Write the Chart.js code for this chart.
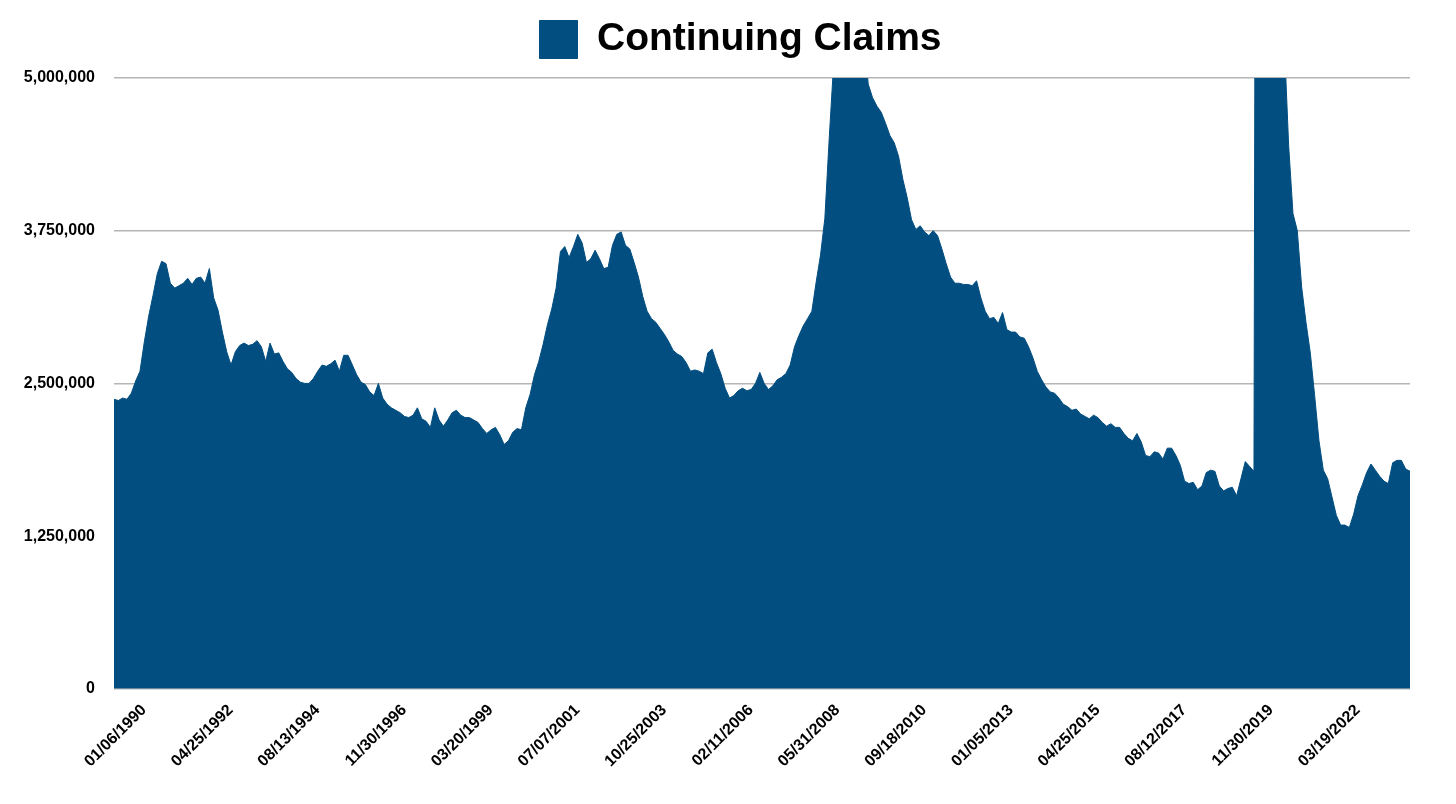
<!DOCTYPE html>
<html>
<head>
<meta charset="utf-8">
<title>Continuing Claims</title>
<script src="https://cdn.jsdelivr.net/npm/chart.js@4.4.1/dist/chart.umd.min.js"></script>
<style>
  html, body { margin: 0; padding: 0; background: #ffffff; }
  #wrap { width: 1456px; height: 804px; position: relative; }
</style>
</head>
<body>
<div id="wrap"><canvas id="claimsChart"></canvas></div>
<script>
// Continuing claims in millions, one reading every 6 weeks starting 01/06/1990
const claims1990 = [
    2.37, 2.36, 2.38, 2.37, 2.42, 2.52, 2.60, 2.84, 3.05, 3.22,
    3.40, 3.50, 3.48, 3.32, 3.28, 3.30, 3.32, 3.36, 3.31, 3.36,
    3.37, 3.32, 3.44, 3.20, 3.10, 2.92, 2.76, 2.65, 2.76, 2.81,
    2.83, 2.81, 2.82, 2.85, 2.80, 2.68, 2.83, 2.74, 2.75, 2.68,
    2.62, 2.59, 2.54, 2.51, 2.50, 2.50, 2.54, 2.60, 2.65, 2.64,
    2.66, 2.69, 2.60, 2.73, 2.73, 2.65, 2.57, 2.51, 2.49, 2.43,
    2.40, 2.50, 2.38, 2.33, 2.30, 2.28, 2.26, 2.23, 2.22, 2.24,
    2.30, 2.21, 2.19, 2.14, 2.30, 2.20, 2.15, 2.20, 2.26, 2.28,
    2.24, 2.22, 2.22, 2.20, 2.18, 2.13, 2.09, 2.12, 2.14, 2.08,
    2.00, 2.03, 2.10, 2.13, 2.12
];
const claims2000 = [
    2.30, 2.41, 2.57, 2.68, 2.82,
    2.98, 3.11, 3.28, 3.58, 3.62, 3.53, 3.62, 3.72, 3.65, 3.49,
    3.52, 3.59, 3.52, 3.44, 3.45, 3.63, 3.72, 3.74, 3.63, 3.60,
    3.49, 3.37, 3.21, 3.09, 3.03, 3.00, 2.95, 2.90, 2.84, 2.77,
    2.74, 2.72, 2.67, 2.60, 2.61, 2.60, 2.58, 2.75, 2.78, 2.67,
    2.58
];
const claims2006 = [
    2.46, 2.38, 2.40, 2.44, 2.46, 2.44, 2.45, 2.50, 2.59,
    2.50, 2.45, 2.48, 2.53, 2.55, 2.58, 2.65, 2.80, 2.89, 2.97,
    3.03, 3.09, 3.33, 3.55, 3.85, 4.50, 5.10, 5.80, 6.40, 6.60,
    6.40, 6.10, 5.80, 5.40, 4.95, 4.84, 4.77, 4.72, 4.63, 4.53,
    4.47, 4.36
];
const claims2010 = [
    4.17, 4.02, 3.84, 3.76, 3.79, 3.74, 3.71, 3.75,
    3.71, 3.60, 3.48, 3.37, 3.32, 3.32, 3.31, 3.31, 3.30, 3.34,
    3.20, 3.09, 3.03, 3.04, 2.99, 3.08, 2.94, 2.92, 2.92, 2.88,
    2.87, 2.80, 2.71, 2.60, 2.53, 2.47, 2.43, 2.42, 2.38, 2.33,
    2.31, 2.28, 2.29, 2.25, 2.23, 2.21, 2.24, 2.22, 2.18, 2.15
];
const claims2016 = [
    2.17, 2.14, 2.14, 2.09, 2.05, 2.03, 2.09, 2.02, 1.91, 1.90,
    1.94, 1.93, 1.88, 1.97, 1.97, 1.91, 1.83, 1.70, 1.68, 1.69,
    1.63, 1.66, 1.77, 1.79, 1.78, 1.66, 1.62, 1.64, 1.65, 1.58,
    1.72, 1.86, 1.82, 1.78
];
const claims2020 = [
    18.0, 22.0, 18.0, 15.0, 12.0, 8.5, 5.3,
    4.45, 3.89, 3.75, 3.29, 3.00, 2.75, 2.40, 2.03, 1.79,
    1.72, 1.57, 1.42, 1.34, 1.34, 1.32, 1.43, 1.58, 1.67, 1.77,
    1.84, 1.79, 1.74, 1.70, 1.68, 1.85, 1.87, 1.87, 1.80, 1.78
];

// x axis labels, one every 120 weeks
const tickLabels = [
    '01/06/1990', '04/25/1992', '08/13/1994', '11/30/1996', '03/20/1999',
    '07/07/2001', '10/25/2003', '02/11/2006', '05/31/2008', '09/18/2010',
    '01/05/2013', '04/25/2015', '08/12/2017', '11/30/2019', '03/19/2022'
];
const yTicks = [0, 1250000, 2500000, 3750000, 5000000];

const STEP_WEEKS = 6;
const TICK_WEEKS = 120;
const fillColor = '#024e80';

// a little more room under the legend, and centre it over the plot
const legendTweak = {
    id: 'legendTweak',
    beforeInit(chart) {
        const fit = chart.legend.fit;
        chart.legend.fit = function () {
            fit.call(this);
            this.height += 9;
        };
    },
    afterLayout(chart) {
        chart.legend.left += 24;
        chart.legend.right += 24;
    }
};

document.addEventListener('DOMContentLoaded', () => {
    Chart.defaults.font.family = "'Liberation Sans', Arial, Helvetica, sans-serif";
    Chart.defaults.color = '#000000';

    const allClaims = [].concat(claims1990, claims2000, claims2006, claims2010, claims2016, claims2020);
    const points = allClaims.map((v, i) => ({ x: i * STEP_WEEKS, y: v * 1000000 }));

    const ctx = document.getElementById('claimsChart').getContext('2d');
    new Chart(ctx, {
        type: 'line',
        data: {
            datasets: [{
                label: 'Continuing Claims',
                data: points,
                fill: 'origin',
                backgroundColor: fillColor,
                borderColor: fillColor,
                borderWidth: 1,
                pointRadius: 0,
                tension: 0
            }]
        },
        options: {
            responsive: true,
            maintainAspectRatio: false,
            animation: false,
            layout: {
                padding: { top: 8, left: 23, right: 46, bottom: 29 }
            },
            plugins: {
                legend: {
                    position: 'top',
                    labels: {
                        boxWidth: 38,
                        boxHeight: 38,
                        padding: 12,
                        color: '#000000',
                        font: { size: 39, weight: 'bold' }
                    }
                },
                tooltip: { enabled: false }
            },
            scales: {
                x: {
                    type: 'linear',
                    min: 0,
                    max: (allClaims.length - 1) * STEP_WEEKS,
                    grid: { display: false },
                    border: { display: false },
                    afterBuildTicks: (axis) => {
                        axis.ticks = tickLabels.map((t, k) => ({ value: k * TICK_WEEKS }));
                    },
                    afterFit: (axis) => {
                        axis.paddingLeft = 0;
                        axis.paddingRight = 0;
                    },
                    ticks: {
                        autoSkip: false,
                        minRotation: 45,
                        maxRotation: 45,
                        padding: 4,
                        labelOffset: 30,
                        color: '#000000',
                        font: { size: 16, weight: 'bold' },
                        callback: (v) => tickLabels[Math.round(v / TICK_WEEKS)]
                    }
                },
                y: {
                    min: 0,
                    max: 5000000,
                    afterBuildTicks: (axis) => {
                        axis.ticks = yTicks.map(v => ({ value: v }));
                    },
                    afterFit: (axis) => {
                        axis.width = 91;
                    },
                    grid: { color: '#b5b5b5', lineWidth: 1.5, drawTicks: false },
                    border: { display: false },
                    ticks: {
                        padding: 19,
                        color: '#000000',
                        font: { size: 16, weight: 'bold' },
                        callback: (v) => v.toLocaleString('en-US')
                    }
                }
            }
        },
        plugins: [legendTweak]
    });
});
</script>
</body>
</html>
